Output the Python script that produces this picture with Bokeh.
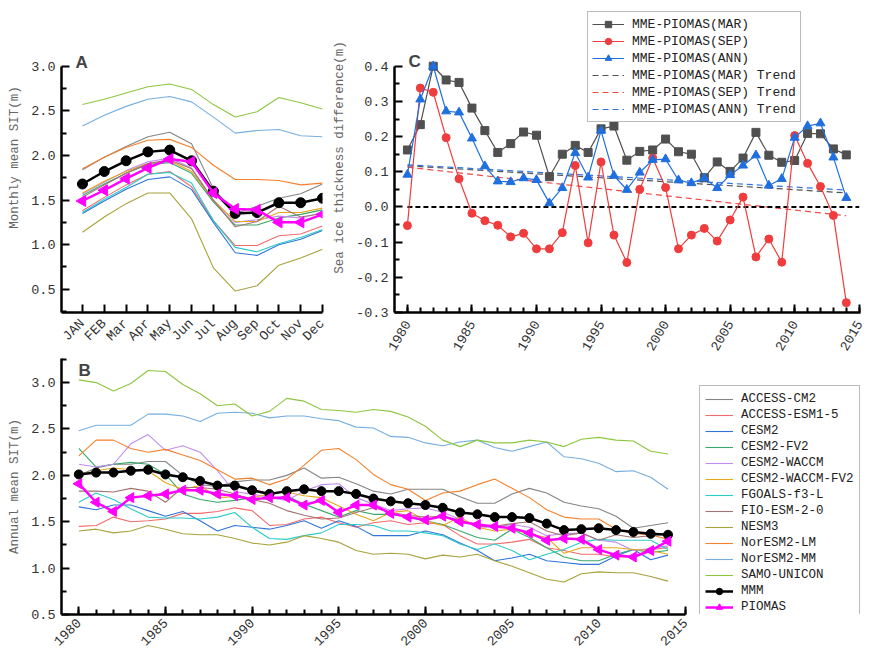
import math
from bokeh.plotting import figure
from bokeh.layouts import column, row
from bokeh.models import FixedTicker, Legend, LegendItem, Label, Range1d
from bokeh.embed import file_html
from bokeh.resources import INLINE

FONT = "Liberation Mono"

# ---------------- Panel A: monthly mean SIT ----------------
month_pos = [1, 2, 3, 4, 5, 6, 7, 8, 9, 10, 11, 12]
month_labels = ["JAN", "FEB", "Mar", "Apr", "May", "Jun", "Jul", "Aug", "Sep", "Oct", "Nov", "Dec"]

a_access_cm2 = [1.84, 1.98, 2.10, 2.21, 2.26, 2.13, 1.63, 1.35, 1.43, 1.52, 1.57, 1.68]
a_access_esm1_5 = [1.38, 1.53, 1.67, 1.79, 1.82, 1.65, 1.27, 0.99, 0.99, 1.10, 1.12, 1.21]
a_cesm2 = [1.35, 1.49, 1.62, 1.73, 1.76, 1.62, 1.25, 0.91, 0.88, 1.00, 1.06, 1.16]
a_cesm2_fv2 = [1.55, 1.68, 1.80, 1.90, 1.92, 1.80, 1.48, 1.22, 1.22, 1.30, 1.34, 1.39]
a_cesm2_waccm = [1.57, 1.70, 1.83, 1.93, 1.97, 1.86, 1.50, 1.25, 1.28, 1.32, 1.30, 1.36]
a_cesm2_waccm_fv2 = [1.58, 1.71, 1.82, 1.91, 1.94, 1.82, 1.50, 1.26, 1.26, 1.36, 1.36, 1.41]
a_fgoals = [1.36, 1.51, 1.64, 1.79, 1.81, 1.69, 1.27, 0.97, 0.92, 1.01, 1.08, 1.17]
a_fio = [1.53, 1.67, 1.80, 1.91, 1.95, 1.85, 1.50, 1.20, 1.26, 1.43, 1.31, 1.35]
a_nesm3 = [1.14, 1.31, 1.46, 1.58, 1.58, 1.29, 0.74, 0.48, 0.54, 0.77, 0.85, 0.95]
a_noresm2_lm = [1.85, 1.98, 2.09, 2.17, 2.18, 2.09, 1.89, 1.73, 1.73, 1.72, 1.67, 1.69]
a_noresm2_mm = [2.33, 2.45, 2.55, 2.63, 2.66, 2.60, 2.43, 2.25, 2.28, 2.29, 2.22, 2.21]
a_samo = [2.57, 2.63, 2.70, 2.77, 2.80, 2.74, 2.57, 2.43, 2.49, 2.65, 2.59, 2.52]
a_mmm = [1.68, 1.82, 1.94, 2.04, 2.06, 1.94, 1.60, 1.35, 1.36, 1.47, 1.47, 1.52]
a_piomas = [1.49, 1.61, 1.74, 1.86, 1.96, 1.93, 1.58, 1.40, 1.39, 1.25, 1.25, 1.34]

# ---------------- Panel B: annual mean SIT ----------------
years = list(range(1980, 2015))

b_access_cm2 = [2.00, 2.08, 2.12, 2.12, 2.15, 2.15, 2.00, 1.90, 1.88, 1.93, 1.95, 1.95, 2.00, 2.08, 1.97, 1.98, 1.91, 1.83,
                1.80, 1.85, 1.85, 1.85, 1.77, 1.70, 1.70, 1.80, 1.86, 1.81, 1.71, 1.67, 1.64, 1.56, 1.43, 1.46, 1.49]
b_access_esm1_5 = [1.45, 1.46, 1.55, 1.50, 1.51, 1.53, 1.59, 1.59, 1.61, 1.65, 1.62, 1.46, 1.47, 1.53, 1.55, 1.49, 1.44, 1.49,
                   1.51, 1.47, 1.49, 1.47, 1.35, 1.26, 1.26, 1.28, 1.31, 1.22, 1.19, 1.15, 1.15, 1.12, 1.12, 1.20, 1.22]
b_cesm2 = [1.66, 1.63, 1.68, 1.68, 1.62, 1.56, 1.61, 1.51, 1.40, 1.46, 1.44, 1.42, 1.46, 1.51, 1.43, 1.51, 1.45, 1.35,
           1.35, 1.35, 1.40, 1.36, 1.27, 1.19, 1.08, 1.11, 1.15, 1.08, 1.06, 1.04, 1.04, 1.13, 1.20, 1.09, 1.14]
b_cesm2_fv2 = [2.29, 2.09, 2.12, 2.14, 2.12, 2.01, 1.80, 1.74, 1.71, 1.73, 1.76, 1.74, 1.78, 1.69, 1.62, 1.55, 1.62, 1.58,
               1.58, 1.55, 1.51, 1.47, 1.40, 1.33, 1.30, 1.42, 1.33, 1.22, 1.12, 1.08, 1.08, 1.15, 1.20, 1.17, 1.19]
b_cesm2_waccm = [2.12, 2.09, 2.12, 2.34, 2.44, 2.27, 2.32, 2.25, 2.05, 1.82, 1.80, 1.76, 1.73, 1.83, 1.90, 1.91, 1.76, 1.69,
                 1.62, 1.64, 1.65, 1.60, 1.53, 1.44, 1.44, 1.47, 1.44, 1.35, 1.37, 1.38, 1.30, 1.28, 1.19, 1.21, 1.24]
b_cesm2_waccm_fv2 = [2.00, 2.05, 2.08, 2.06, 2.05, 1.92, 1.85, 1.89, 1.76, 1.77, 1.76, 1.80, 1.82, 1.78, 1.76, 1.67, 1.58, 1.51,
                     1.60, 1.62, 1.51, 1.46, 1.55, 1.44, 1.40, 1.42, 1.37, 1.33, 1.16, 1.22, 1.22, 1.22, 1.20, 1.19, 1.15]
b_fgoals = [1.71, 1.81, 1.74, 1.64, 1.55, 1.54, 1.54, 1.53, 1.55, 1.60, 1.44, 1.32, 1.31, 1.35, 1.38, 1.47, 1.47, 1.46,
            1.40, 1.40, 1.38, 1.35, 1.26, 1.20, 1.26, 1.19, 1.09, 1.15, 1.20, 1.28, 1.31, 1.30, 1.30, 1.30, 1.20]
b_fio = [1.83, 1.83, 1.82, 1.86, 1.83, 1.71, 1.87, 1.87, 1.85, 1.80, 1.74, 1.70, 1.62, 1.57, 1.53, 1.54, 1.60, 1.65,
         1.60, 1.57, 1.55, 1.56, 1.52, 1.45, 1.45, 1.48, 1.50, 1.40, 1.35, 1.38, 1.30, 1.36, 1.33, 1.35, 1.37]
b_nesm3 = [1.40, 1.42, 1.38, 1.40, 1.46, 1.42, 1.37, 1.36, 1.36, 1.32, 1.27, 1.25, 1.28, 1.35, 1.32, 1.28, 1.19, 1.15,
           1.16, 1.15, 1.10, 1.14, 1.12, 1.15, 1.08, 1.02, 0.95, 0.88, 0.85, 0.94, 0.96, 0.95, 0.95, 0.91, 0.86]
b_noresm2_lm = [2.21, 2.38, 2.38, 2.29, 2.25, 2.28, 2.22, 2.16, 2.06, 1.96, 1.97, 1.90, 1.96, 2.11, 2.27, 2.29, 2.17, 2.01,
                1.90, 1.85, 1.73, 1.81, 1.83, 1.90, 1.96, 1.86, 1.76, 1.63, 1.55, 1.53, 1.53, 1.42, 1.37, 1.36, 1.31]
b_noresm2_mm = [2.48, 2.54, 2.54, 2.54, 2.66, 2.66, 2.64, 2.58, 2.67, 2.68, 2.67, 2.62, 2.64, 2.64, 2.61, 2.59, 2.52, 2.51,
                2.42, 2.41, 2.35, 2.32, 2.36, 2.38, 2.30, 2.26, 2.31, 2.36, 2.20, 2.18, 2.13, 2.04, 2.05, 1.98, 1.85]
b_samo = [3.03, 3.00, 2.91, 2.99, 3.13, 3.12, 2.98, 2.88, 2.75, 2.77, 2.64, 2.69, 2.83, 2.80, 2.71, 2.70, 2.68, 2.71,
          2.69, 2.63, 2.53, 2.38, 2.31, 2.38, 2.35, 2.35, 2.38, 2.36, 2.31, 2.39, 2.41, 2.38, 2.37, 2.26, 2.23]
b_mmm = [2.01, 2.03, 2.03, 2.05, 2.06, 2.01, 1.98, 1.94, 1.89, 1.89, 1.84, 1.80, 1.83, 1.85, 1.83, 1.83, 1.80, 1.75,
         1.72, 1.70, 1.68, 1.65, 1.60, 1.58, 1.55, 1.55, 1.54, 1.48, 1.41, 1.42, 1.43, 1.41, 1.39, 1.37, 1.36]
b_piomas = [1.91, 1.71, 1.61, 1.76, 1.78, 1.80, 1.84, 1.84, 1.80, 1.78, 1.74, 1.76, 1.76, 1.68, 1.73, 1.60, 1.68, 1.68,
            1.59, 1.55, 1.52, 1.56, 1.50, 1.47, 1.45, 1.43, 1.38, 1.30, 1.32, 1.31, 1.20, 1.14, 1.12, 1.19, 1.29]

model_names = ["ACCESS-CM2", "ACCESS-ESM1-5", "CESM2", "CESM2-FV2", "CESM2-WACCM", "CESM2-WACCM-FV2",
               "FGOALS-f3-L", "FIO-ESM-2-0", "NESM3", "NorESM2-LM", "NorESM2-MM", "SAMO-UNICON"]
model_colors = ["#858585", "#f26b6b", "#2f74d9", "#3aa86b", "#c28cf0", "#e8a71c",
                "#2ccaca", "#a37373", "#a8a23a", "#f5802c", "#76aee0", "#8dc63f"]
a_models = [a_access_cm2, a_access_esm1_5, a_cesm2, a_cesm2_fv2, a_cesm2_waccm, a_cesm2_waccm_fv2,
            a_fgoals, a_fio, a_nesm3, a_noresm2_lm, a_noresm2_mm, a_samo]
b_models = [b_access_cm2, b_access_esm1_5, b_cesm2, b_cesm2_fv2, b_cesm2_waccm, b_cesm2_waccm_fv2,
            b_fgoals, b_fio, b_nesm3, b_noresm2_lm, b_noresm2_mm, b_samo]

# ---------------- Panel C: MME - PIOMAS ----------------
c_mar = [0.162, 0.234, 0.400, 0.361, 0.354, 0.281, 0.217, 0.155, 0.180, 0.213, 0.204, 0.086, 0.150, 0.175, 0.155, 0.222,
         0.230, 0.133, 0.158, 0.162, 0.193, 0.157, 0.150, 0.083, 0.128, 0.101, 0.139, 0.212, 0.147, 0.127, 0.132, 0.209,
         0.208, 0.165, 0.148]
c_sep = [-0.053, 0.338, 0.326, 0.197, 0.080, -0.018, -0.039, -0.052, -0.085, -0.075, -0.119, -0.119, -0.073, 0.118,
         -0.102, 0.128, -0.080, -0.158, 0.050, 0.139, 0.055, -0.119, -0.080, -0.061, -0.097, -0.037, 0.028, -0.142,
         -0.091, -0.157, 0.203, 0.124, 0.058, -0.024, -0.272]
c_ann = [0.092, 0.306, 0.400, 0.272, 0.269, 0.195, 0.116, 0.073, 0.071, 0.082, 0.077, 0.011, 0.054, 0.154, 0.084, 0.217,
         0.089, 0.049, 0.098, 0.134, 0.136, 0.076, 0.068, 0.082, 0.054, 0.091, 0.118, 0.147, 0.061, 0.080, 0.197, 0.230,
         0.238, 0.141, 0.026]
trend_years = [1980, 2014]
c_mar_trend = [0.117, 0.040]
c_sep_trend = [0.113, -0.025]
c_ann_trend = [0.120, 0.048]
zero_x = [1980, 2015]
zero_y = [0.0, 0.0]


def style(p):
    p.outline_line_color = None
    p.grid.visible = False
    p.background_fill_color = "white"
    p.border_fill_color = "white"
    for ax in p.axis:
        ax.axis_line_width = 2.5
        ax.axis_line_color = "black"
        ax.major_tick_line_width = 2
        ax.minor_tick_line_width = 2
        ax.major_tick_line_color = "black"
        ax.minor_tick_line_color = "black"
        ax.major_tick_in = 8
        ax.major_tick_out = 0
        ax.minor_tick_in = 5
        ax.minor_tick_out = 0
        ax.major_label_text_font = FONT
        ax.major_label_text_font_size = "13.5px"
        ax.major_label_text_color = "#333333"
        ax.major_label_standoff = 6
        ax.axis_label_text_font = FONT
        ax.axis_label_text_font_style = "normal"
        ax.axis_label_text_font_size = "12.5px"
        ax.axis_label_text_color = "#666666"
        ax.axis_label_standoff = 6


def panel_label(p, text, x, y):
    p.add_layout(Label(x=x, y=y, x_units="screen", y_units="screen", text=text,
                       text_font="Liberation Sans", text_font_style="bold",
                       text_font_size="17px", text_baseline="top", text_align="left"))


# ---------- A ----------
pa = figure(width=330, height=357, x_range=Range1d(0.04, 12.0), y_range=Range1d(0.24, 3.714),
            min_border_left=61, min_border_right=8, min_border_top=2, min_border_bottom=34,
            toolbar_location=None, output_backend="svg")
style(pa)
for ys, c in zip(a_models, model_colors):
    pa.line(month_pos, ys, line_color=c, line_width=1.1)
pa.line(month_pos, a_mmm, line_color="black", line_width=2.5)
pa.scatter(month_pos, a_mmm, marker="circle", size=10, color="black")
pa.line(month_pos, a_piomas, line_color="#ff00ff", line_width=2.5)
pa.scatter(month_pos, a_piomas, marker="triangle", angle=math.pi / 2, size=11, color="#ff00ff")
pa.xaxis.ticker = FixedTicker(ticks=month_pos)
pa.xaxis.major_label_overrides = {m: l for m, l in zip(month_pos, month_labels)}
pa.xaxis.major_label_orientation = math.pi / 4
pa.xaxis.major_label_standoff = 9
pa.yaxis.ticker = FixedTicker(ticks=[0.5, 1.0, 1.5, 2.0, 2.5, 3.0], minor_ticks=[0.25, 0.75, 1.25, 1.75, 2.25, 2.75])
pa.yaxis.major_label_overrides = {0.5: "0.5", 1.0: "1.0", 1.5: "1.5", 2.0: "2.0", 2.5: "2.5", 3.0: "3.0"}
pa.yaxis.bounds = (0.24, 3.0)
pa.yaxis.axis_label = "Monthly mean SIT(m)"
panel_label(pa, "A", 14, 260)

# ---------- C ----------
pc = figure(width=539, height=357, x_range=Range1d(1979, 2015.1), y_range=Range1d(-0.3, 0.5812),
            min_border_left=64, min_border_right=9, min_border_top=2, min_border_bottom=34,
            toolbar_location=None, output_backend="svg")
style(pc)
r_mt = pc.line(trend_years, c_mar_trend, line_color="#555555", line_width=1.2, line_dash="6 4")
r_st = pc.line(trend_years, c_sep_trend, line_color="#f04848", line_width=1.2, line_dash="6 4")
r_at = pc.line(trend_years, c_ann_trend, line_color="#2f74e0", line_width=1.2, line_dash="6 4")
pc.line(zero_x, zero_y, line_color="black", line_width=2, line_dash="5 3")
r_ml = pc.line(years, c_mar, line_color="#505050", line_width=1.2)
r_ms = pc.scatter(years, c_mar, marker="square", size=8, color="#505050")
r_sl = pc.line(years, c_sep, line_color="#f03c3c", line_width=1.2)
r_ss = pc.scatter(years, c_sep, marker="circle", size=8, color="#f03c3c")
r_al = pc.line(years, c_ann, line_color="#1f6fdf", line_width=1.2)
r_as = pc.scatter(years, c_ann, marker="triangle", size=9, color="#1f6fdf")
pc.xaxis.ticker = FixedTicker(ticks=[1980, 1985, 1990, 1995, 2000, 2005, 2010, 2015], minor_ticks=list(range(1980, 2016)))
pc.xaxis.major_label_orientation = math.pi / 3
pc.xaxis.major_label_standoff = 9
c_major = [-0.3, -0.2, -0.1, 0.0, 0.1, 0.2, 0.3, 0.4]
pc.yaxis.ticker = FixedTicker(ticks=c_major, minor_ticks=[-0.25, -0.15, -0.05, 0.05, 0.15, 0.25, 0.35])
pc.yaxis.major_label_overrides = {v: "%.1f" % v for v in c_major}
pc.yaxis.bounds = (-0.3, 0.4)
pc.yaxis.axis_label = "Sea ice thickness difference(m)"
panel_label(pc, "C", 14, 261)
leg_c = Legend(items=[
    LegendItem(label="MME-PIOMAS(MAR)", renderers=[r_ml, r_ms]),
    LegendItem(label="MME-PIOMAS(SEP)", renderers=[r_sl, r_ss]),
    LegendItem(label="MME-PIOMAS(ANN)", renderers=[r_al, r_as]),
    LegendItem(label="MME-PIOMAS(MAR) Trend", renderers=[r_mt]),
    LegendItem(label="MME-PIOMAS(SEP) Trend", renderers=[r_st]),
    LegendItem(label="MME-PIOMAS(ANN) Trend", renderers=[r_at]),
], location=(193, 190))
leg_c.label_text_font = FONT
leg_c.label_text_font_size = "13px"
leg_c.label_text_color = "#222222"
leg_c.border_line_color = "#777777"
leg_c.border_line_width = 1
leg_c.glyph_width = 32
leg_c.glyph_height = 16
leg_c.label_height = 16
leg_c.label_standoff = 8
leg_c.spacing = 1
leg_c.padding = 4
leg_c.margin = 0
pc.add_layout(leg_c)

# ---------- B ----------
pb = figure(width=869, height=300, x_range=Range1d(1979, 2025.57), y_range=Range1d(0.5, 3.26),
            min_border_left=61, min_border_right=1, min_border_top=1, min_border_bottom=43,
            toolbar_location=None, output_backend="svg")
style(pb)
items_b = []
for name, ys, c in zip(model_names, b_models, model_colors):
    r = pb.line(years, ys, line_color=c, line_width=1.1)
    items_b.append(LegendItem(label=name, renderers=[r]))
r_mmm_l = pb.line(years, b_mmm, line_color="black", line_width=2.5)
r_mmm_s = pb.scatter(years, b_mmm, marker="circle", size=9, color="black")
r_pio_l = pb.line(years, b_piomas, line_color="#ff00ff", line_width=2.5)
r_pio_s = pb.scatter(years, b_piomas, marker="triangle", angle=math.pi / 2, size=10, color="#ff00ff")
items_b.append(LegendItem(label="MMM", renderers=[r_mmm_l, r_mmm_s]))
items_b.append(LegendItem(label="PIOMAS", renderers=[r_pio_l, r_pio_s]))
pb.xaxis.ticker = FixedTicker(ticks=[1980, 1985, 1990, 1995, 2000, 2005, 2010, 2015], minor_ticks=list(range(1980, 2016)))
pb.xaxis.major_label_orientation = math.pi / 4
pb.xaxis.bounds = (1979, 2015)
pb.yaxis.ticker = FixedTicker(ticks=[0.5, 1.0, 1.5, 2.0, 2.5, 3.0], minor_ticks=[0.75, 1.25, 1.75, 2.25, 2.75, 3.25])
pb.yaxis.major_label_overrides = {0.5: "0.5", 1.0: "1.0", 1.5: "1.5", 2.0: "2.0", 2.5: "2.5", 3.0: "3.0"}
pb.yaxis.axis_label = "Annual mean SIT(m)"
panel_label(pb, "B", 17, 254)
leg_b = Legend(items=items_b, location=(638, -7))
leg_b.label_text_font = FONT
leg_b.label_text_font_size = "12.5px"
leg_b.label_text_color = "#222222"
leg_b.border_line_color = "#777777"
leg_b.border_line_width = 1
leg_b.glyph_width = 28
leg_b.glyph_height = 16
leg_b.label_height = 16
leg_b.label_standoff = 8
leg_b.spacing = 0
leg_b.padding = 5
leg_b.margin = 0
pb.add_layout(leg_b)

layout = column(row(pa, pc, spacing=0), pb, spacing=0)
open("out.html", "w").write(file_html(layout, INLINE))
